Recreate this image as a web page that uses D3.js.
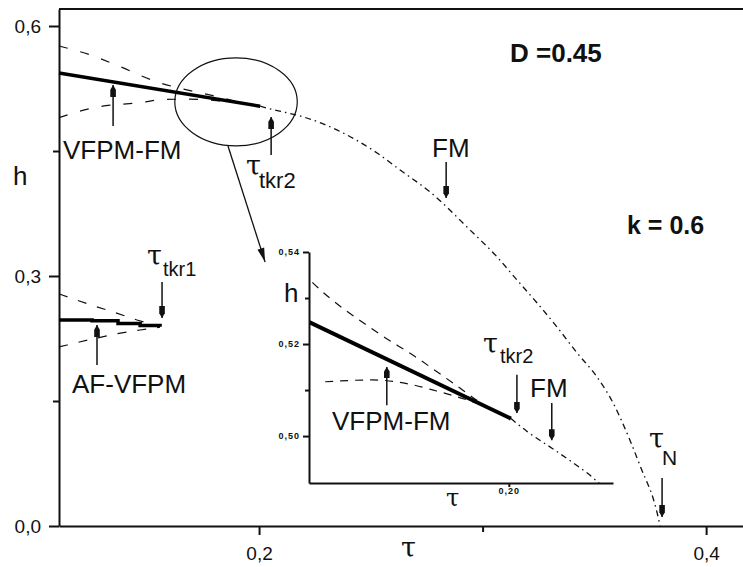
<!DOCTYPE html>
<html>
<head>
<meta charset="utf-8">
<script src="https://cdn.jsdelivr.net/npm/d3@7"></script>
<style>
  body { margin: 0; background: #fff; }
  svg { display: block; }
  text { font-family: "Liberation Sans", Arial, sans-serif; fill: #111; }
  .greek { font-family: "DejaVu Serif", serif; }
</style>
</head>
<body>
<svg id="chart" width="743" height="567"></svg>
<script>
"use strict";

// ticks
var tauTicks = [0.2, 0.4];
var tauTickLabels = ["0,2", "0,4"];
var tauMinor = [0.3];
var hTicks = [0.0, 0.3, 0.6];
var hTickLabels = ["0,0", "0,3", "0,6"];
var hMinor = [0.15, 0.45];
var insetHTicks = [0.50, 0.52, 0.54];
var insetHLabels = ["0,50", "0,52", "0,54"];
var insetHMinor = [0.51, 0.53];
var insetTauTicks = [0.20];
var insetTauLabels = ["0,20"];

// VFPM-FM, stable (thick)
var vfpmTau = [0.1105, 0.2005];
var vfpmH   = [0.5436, 0.5038];
// FM, metastable (upper dashed)
var fmMetaTau = [0.1105, 0.1244, 0.1365, 0.1539, 0.1691, 0.1784, 0.1869, 0.1955, 0.2005];
var fmMetaH   = [0.5760, 0.5654, 0.5528, 0.5333, 0.5225, 0.5170, 0.5115, 0.5060, 0.5038];
// VFPM-FM, metastable (lower dashed)
var vfpmMetaTau = [0.1105, 0.1257, 0.1481, 0.1568, 0.1680, 0.1760, 0.1830, 0.1890, 0.1940];
var vfpmMetaH   = [0.4900, 0.5018, 0.5085, 0.5118, 0.5122, 0.5114, 0.5098, 0.5082, 0.5066];
// FM, stable (dash-dot) down to tau_N
var fmTau = [0.2005, 0.2043, 0.2120, 0.2207, 0.2362, 0.2528, 0.2631, 0.2765, 0.2944, 0.3065,
             0.3154, 0.3244, 0.3333, 0.3423, 0.3512, 0.3584, 0.3624, 0.3705, 0.3781, 0.3794];
var fmH   = [0.5038, 0.5010, 0.4962, 0.4902, 0.4735, 0.4476, 0.4272, 0.4008, 0.3552, 0.3228,
             0.2952, 0.2676, 0.2388, 0.2076, 0.1788, 0.1476, 0.1250, 0.0720, 0.0156, 0.0];
// AF-VFPM
var afTau = [0.1105, 0.1253, 0.1369, 0.1468, 0.1557];
var afH   = [0.2473, 0.2462, 0.2430, 0.2405, 0.2392];
var afUpTau = [0.1105, 0.1119, 0.1235, 0.1347, 0.1454, 0.1557];
var afUpH   = [0.2785, 0.2772, 0.2664, 0.2568, 0.2472, 0.2395];
var afLoTau = [0.1105, 0.1141, 0.1235, 0.1356, 0.1468, 0.1557];
var afLoH   = [0.2150, 0.2172, 0.2232, 0.2304, 0.2352, 0.2386];

// zoom mark: ellipse centre and half sizes (tau, h), pointer from/to
var zoomEllipse = [0.1897, 0.509, 0.0274, 0.0528];
var pointerFrom = [0.1861, 0.456];
var pointerTo   = [0.2027, 0.3168];

// arrows: tau, tail h, tip h
var mainArrows = [
  [0.1347, 0.480, 0.5292],   // VFPM-FM
  [0.2054, 0.4452, 0.4908],  // tau_tkr2
  [0.2837, 0.4368, 0.3936],  // FM
  [0.1566, 0.2928, 0.2496],  // tau_tkr1
  [0.1275, 0.1932, 0.2412],  // AF-VFPM
  [0.3803, 0.0576, 0.0108]   // tau_N
];
var insetArrows = [
  [0.1713, 0.5067, 0.5150],  // VFPM-FM
  [0.2019, 0.5133, 0.5050],  // tau_tkr2
  [0.2101, 0.5072, 0.4991]   // FM
];

function zip(a, b) { return a.map(function(v, i) { return [v, b[i]]; }); }

var svg = d3.select("#chart");

var x = d3.scaleLinear().domain([0.1105, 0.4165]).range([59, 743]);
var y = d3.scaleLinear().domain([0, 0.6204]).range([526, 9]);
var xi = d3.scaleLinear().domain([0.153, 0.2245]).range([309, 613]);
var yi = d3.scaleLinear().domain([0.4898, 0.54]).range([483, 252]);

function styleAxis(g) {
  g.selectAll("path, line").attr("stroke", "#111").attr("stroke-width", 2);
  g.selectAll("text").attr("fill", "#222");
}

// main frame top
svg.append("line")
  .attr("x1", x.range()[0]).attr("x2", x.range()[1] + 20)
  .attr("y1", y.range()[1]).attr("y2", y.range()[1])
  .attr("stroke", "#111").attr("stroke-width", 2);

// main axes
var gy = svg.append("g").attr("transform", "translate(" + x.range()[0] + ",0)")
  .call(d3.axisLeft(y).tickValues(hTicks).tickSize(10).tickSizeOuter(0).tickPadding(8)
    .tickFormat(function(d, i) { return hTickLabels[i]; }));
gy.selectAll("text").style("font-size", "19px").attr("font-family", null);
styleAxis(gy);
var gym = svg.append("g").attr("transform", "translate(" + x.range()[0] + ",0)")
  .call(d3.axisLeft(y).tickValues(hMinor).tickSize(6).tickSizeOuter(0).tickFormat(""));
styleAxis(gym);
gym.select("path").remove();

var gx = svg.append("g").attr("transform", "translate(0," + y.range()[0] + ")")
  .call(d3.axisBottom(x).tickValues(tauTicks).tickSize(9).tickSizeOuter(0).tickPadding(12)
    .tickFormat(function(d, i) { return tauTickLabels[i]; }));
gx.selectAll("text").style("font-size", "19px").attr("font-family", null);
styleAxis(gx);
var gxm = svg.append("g").attr("transform", "translate(0," + y.range()[0] + ")")
  .call(d3.axisBottom(x).tickValues(tauMinor).tickSize(6).tickSizeOuter(0).tickFormat(""));
styleAxis(gxm);
gxm.select("path").remove();

// curves
function drawCurves(g, xs, ys, sc, lowStart) {
  var line = d3.line().x(function(d) { return xs(d[0]); }).y(function(d) { return ys(d[1]); });
  var smooth = d3.line().curve(d3.curveMonotoneX)
    .x(function(d) { return xs(d[0]); }).y(function(d) { return ys(d[1]); });
  var lower = zip(vfpmMetaTau, vfpmMetaH).filter(function(d) { return d[0] >= lowStart; });

  g.append("path").datum(zip(fmMetaTau, fmMetaH)).attr("d", smooth)
    .attr("fill", "none").attr("stroke", "#111").attr("stroke-width", 1.2)
    .attr("stroke-dasharray", sc ? "8,7" : "9,13");
  g.append("path").datum(lower).attr("d", smooth)
    .attr("fill", "none").attr("stroke", "#111").attr("stroke-width", 1.2)
    .attr("stroke-dasharray", sc ? "8,7" : "9,13");
  g.append("path").datum(zip(vfpmTau, vfpmH)).attr("d", line)
    .attr("fill", "none").attr("stroke", "#000").attr("stroke-width", sc ? 4 : 3.5);
  g.append("path").datum(zip(fmTau, fmH)).attr("d", smooth)
    .attr("fill", "none").attr("stroke", "#111").attr("stroke-width", 1.3)
    .attr("stroke-dasharray", "6,4,1.5,4");
}

var mainG = svg.append("g");
drawCurves(mainG, x, y, false, 0);

// AF-VFPM
var ln = d3.line().x(function(d) { return x(d[0]); }).y(function(d) { return y(d[1]); });
mainG.append("path").datum(zip(afUpTau, afUpH)).attr("d", ln)
  .attr("fill", "none").attr("stroke", "#111").attr("stroke-width", 1.2).attr("stroke-dasharray", "9,11");
mainG.append("path").datum(zip(afLoTau, afLoH)).attr("d", ln)
  .attr("fill", "none").attr("stroke", "#111").attr("stroke-width", 1.2).attr("stroke-dasharray", "9,11");
mainG.append("path").datum(zip(afTau, afH)).attr("d", d3.line().curve(d3.curveStepAfter)
    .x(function(d) { return x(d[0]); }).y(function(d) { return y(d[1]); }))
  .attr("fill", "none").attr("stroke", "#000").attr("stroke-width", 3.5);

// zoom ellipse and pointer
svg.append("ellipse")
  .attr("cx", x(zoomEllipse[0])).attr("cy", y(zoomEllipse[1]))
  .attr("rx", x(zoomEllipse[0] + zoomEllipse[2]) - x(zoomEllipse[0]))
  .attr("ry", y(zoomEllipse[1] - zoomEllipse[3]) - y(zoomEllipse[1]))
  .attr("fill", "none").attr("stroke", "#111").attr("stroke-width", 1.2);

var px0 = x(pointerFrom[0]), py0 = y(pointerFrom[1]);
var px1 = x(pointerTo[0]), py1 = y(pointerTo[1]);
svg.append("line").attr("x1", px0).attr("y1", py0).attr("x2", px1).attr("y2", py1)
  .attr("stroke", "#111").attr("stroke-width", 1.3);
var ang = Math.atan2(py1 - py0, px1 - px0);
var hl = 14, hw = 3.5;
svg.append("path")
  .attr("d", "M" + px1 + "," + py1 +
    "L" + (px1 - hl * Math.cos(ang) - hw * Math.sin(ang)) + "," + (py1 - hl * Math.sin(ang) + hw * Math.cos(ang)) +
    "L" + (px1 - hl * Math.cos(ang) + hw * Math.sin(ang)) + "," + (py1 - hl * Math.sin(ang) - hw * Math.cos(ang)) + "Z")
  .attr("fill", "#111");

// arrows
function drawArrows(g, xs, ys, list, head) {
  list.forEach(function(a) {
    var ax = xs(a[0]), y0 = ys(a[1]), y1 = ys(a[2]);
    var dir = y1 > y0 ? 1 : -1;
    g.append("line").attr("x1", ax).attr("x2", ax).attr("y1", y0).attr("y2", y1)
      .attr("stroke", "#111").attr("stroke-width", 1.5);
    g.append("path")
      .attr("d", "M" + ax + "," + y1 + "L" + (ax - 2.8) + "," + (y1 - dir * head * 0.4) +
        "L" + (ax - 2.8) + "," + (y1 - dir * head) + "L" + (ax + 2.8) + "," + (y1 - dir * head) +
        "L" + (ax + 2.8) + "," + (y1 - dir * head * 0.4) + "Z")
      .attr("fill", "#111");
  });
}
drawArrows(svg, x, y, mainArrows, 12);

// inset
var inset = svg.append("g");
inset.append("clipPath").attr("id", "insetClip").append("rect")
  .attr("x", xi.range()[0]).attr("y", yi.range()[1])
  .attr("width", xi.range()[1] - xi.range()[0]).attr("height", yi.range()[0] - yi.range()[1]);
var insetCurves = inset.append("g").attr("clip-path", "url(#insetClip)");
drawCurves(insetCurves, xi, yi, true, 0.1568);

var giy = inset.append("g").attr("transform", "translate(" + xi.range()[0] + ",0)")
  .call(d3.axisLeft(yi).tickValues(insetHTicks).tickSize(6).tickSizeOuter(0).tickPadding(3)
    .tickFormat(function(d, i) { return insetHLabels[i]; }));
styleAxis(giy);
giy.selectAll("text").style("font-size", "9px").style("font-weight", "bold")
  .style("letter-spacing", "1px").attr("font-family", null);
var giym = inset.append("g").attr("transform", "translate(" + xi.range()[0] + ",0)")
  .call(d3.axisLeft(yi).tickValues(insetHMinor).tickSize(4).tickSizeOuter(0).tickFormat(""));
styleAxis(giym);
giym.select("path").remove();

var gix = inset.append("g").attr("transform", "translate(0," + yi.range()[0] + ")")
  .call(d3.axisBottom(xi).tickValues(insetTauTicks).tickSize(4).tickSizeOuter(0).tickPadding(1)
    .tickFormat(function(d, i) { return insetTauLabels[i]; }));
styleAxis(gix);
gix.selectAll("text").style("font-size", "9px").style("font-weight", "bold")
  .style("letter-spacing", "1px").attr("font-family", null);

drawArrows(inset, xi, yi, insetArrows, 11);

// labels
function label(txt, lx, ly, size, cls, weight) {
  svg.append("text").attr("x", lx).attr("y", ly).attr("class", cls || null)
    .style("font-size", size + "px").style("font-weight", weight || "normal").text(txt);
}
function tauLabel(sub, lx, ly, subX, subY, subSize, tSize) {
  label("\u03C4", lx, ly, tSize || 27, "greek");
  label(sub, subX, subY, subSize);
}

label("h", 13, 185, 26);
label("\u03C4", 401, 557, 27, "greek");
label("D =0.45", 510, 62, 26, null, "bold");
label("k = 0.6", 627, 234, 25, null, "bold");
label("VFPM-FM", 63, 159, 26);
label("FM", 432, 157, 26);
label("AF-VFPM", 72, 393, 26);
tauLabel("tkr2", 246, 175, 259, 188, 22);
tauLabel("tkr1", 147, 265, 163, 276, 20);
tauLabel("N", 649, 448, 662, 465, 21);

label("h", 284, 302, 26);
label("\u03C4", 446, 506, 24, "greek");
label("VFPM-FM", 332, 430, 26);
label("FM", 530, 397, 26);
tauLabel("tkr2", 483, 353, 500, 363, 20);
</script>
</body>
</html>
